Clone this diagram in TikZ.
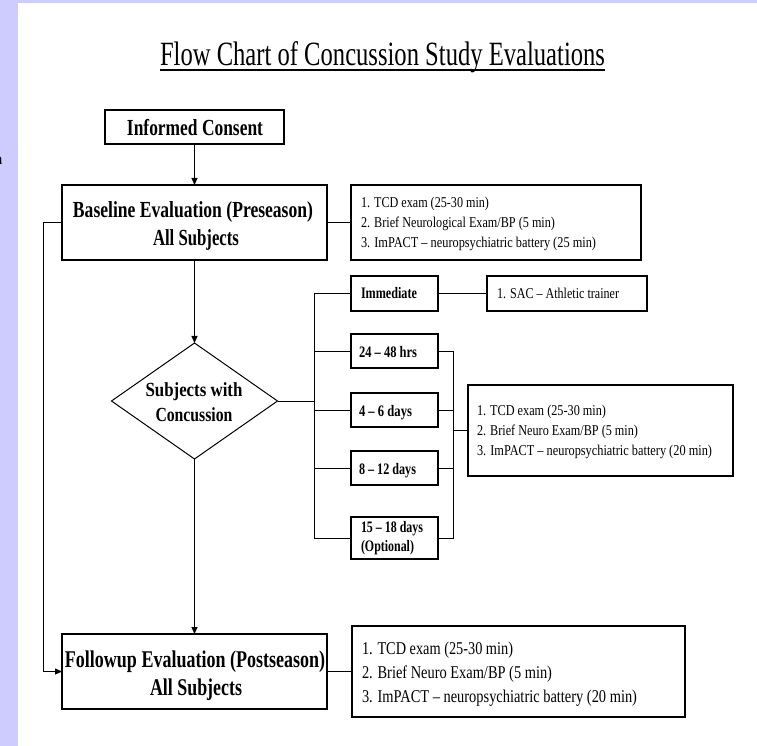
\documentclass[tikz,border=0pt]{standalone}
\usepackage{fontspec}
\setmainfont{Liberation Serif}
\usepackage{graphicx}
\usetikzlibrary{shapes.geometric,arrows.meta}
\definecolor{lav}{RGB}{204,204,255}
\newcommand\fitw[2]{\resizebox{#1pt}{\height}{#2}}
\begin{document}
\begin{tikzpicture}[x=1pt,y=-1pt,
 box/.style={draw=black, line width=1.8pt, rectangle, inner sep=0pt, outer sep=0pt},
 conn/.style={draw=black, line width=1pt},
 arr/.style={conn, -{Triangle[length=7pt,width=6pt]}},
 lbl/.style={anchor=base, inner sep=0pt, outer sep=0pt},
 lbll/.style={anchor=base west, inner sep=0pt, outer sep=0pt},
 bigb/.style={font=\bfseries\fontsize{23}{27}\selectfont},
 midb/.style={font=\bfseries\fontsize{20}{24}\selectfont},
 smb/.style={font=\bfseries\fontsize{16}{18}\selectfont},
 sm/.style={font=\fontsize{15}{18}\selectfont},
]
\useasboundingbox (0,0) rectangle (757,746);
\fill[lav] (0,0) rectangle (757,746);
\fill[white] (18,3) rectangle (757,746);
\node[lbll, anchor=base east, font=\fontsize{16}{18}\selectfont] (cut) at (2.5,165) {a};

% title
\node[lbl, font=\fontsize{34}{40}\selectfont] (title) at (382.5,66) {\fitw{445}{Flow Chart of Concussion Study Evaluations}};
\draw[line width=1.5pt] ([yshift=-4pt]title.base west) -- ([yshift=-4pt]title.base east);

% informed consent
\node[box, minimum width=179pt, minimum height=34pt] (ic) at (194.5,127) {};
\node[lbl, bigb] (icT) at (195,136) {\fitw{136}{Informed Consent}};

% baseline
\node[box, minimum width=265pt, minimum height=75pt] (bl) at (194.5,222.5) {};
\node[lbl, bigb] (blT1) at (193,218) {\fitw{240}{Baseline Evaluation (Preseason)}};
\node[lbl, bigb] (blT2) at (196,245) {\fitw{86}{All Subjects}};

% info 1
\node[box, minimum width=290pt, minimum height=75pt] (i1) at (496,222.5) {};
\node[lbll, sm] (i1a) at (361,207) {\fitw{128}{1. TCD exam (25-30 min)}};
\node[lbll, sm] (i1b) at (361,227) {\fitw{194}{2. Brief Neurological Exam/BP (5 min)}};
\node[lbll, sm] (i1c) at (361,247) {\fitw{235}{3. ImPACT -- neuropsychiatric battery (25 min)}};

% diamond
\node[diamond, draw=black, line width=1pt, minimum width=166pt, minimum height=116pt, inner sep=0pt, outer sep=0pt] (dm) at (194.5,401) {};
\node[lbl, midb] (dmT1) at (194,396) {\fitw{97}{Subjects with}};
\node[lbl, midb] (dmT2) at (194,421) {\fitw{77}{Concussion}};

% interval boxes
\node[box, minimum width=87pt, minimum height=35pt] (im) at (394.5,293.5) {};
\node[lbll, smb] (imT) at (361,298.5) {\fitw{56}{Immediate}};
\node[box, minimum width=87pt, minimum height=34pt] (h24) at (394.5,351) {};
\node[lbll, smb] (h24T) at (359,357) {\fitw{58}{24 -- 48 hrs}};
\node[box, minimum width=87pt, minimum height=34pt] (d46) at (394.5,410) {};
\node[lbll, smb] (d46T) at (359,416) {\fitw{53}{4 -- 6 days}};
\node[box, minimum width=87pt, minimum height=34pt] (d812) at (394.5,468) {};
\node[lbll, smb] (d812T) at (359,474) {\fitw{57}{8 -- 12 days}};
\node[box, minimum width=87pt, minimum height=42pt] (d1518) at (394.5,538) {};
\node[lbll, smb] (d1518a) at (361,532) {\fitw{62}{15 -- 18 days}};
\node[lbll, smb] (d1518b) at (361,551) {\fitw{53}{(Optional)}};

% SAC
\node[box, minimum width=160pt, minimum height=35pt] (sac) at (567,293.5) {};
\node[lbll, sm] (sacT) at (497,298.5) {\fitw{122}{1. SAC -- Athletic trainer}};

% info 2
\node[box, minimum width=265pt, minimum height=91pt] (i2) at (600.5,430.5) {};
\node[lbll, sm] (i2a) at (477,415) {\fitw{129}{1. TCD exam (25-30 min)}};
\node[lbll, sm] (i2b) at (477,435) {\fitw{161}{2. Brief Neuro Exam/BP (5 min)}};
\node[lbll, sm] (i2c) at (477,455) {\fitw{235}{3. ImPACT -- neuropsychiatric battery (20 min)}};

% follow up
\node[box, minimum width=265pt, minimum height=75pt] (fu) at (194.5,671.5) {};
\node[lbl, font=\bfseries\fontsize{24}{28}\selectfont] (fuT1) at (195,667) {\fitw{260}{Followup Evaluation (Postseason)}};
\node[lbl, font=\bfseries\fontsize{24}{28}\selectfont] (fuT2) at (196,695) {\fitw{92}{All Subjects}};

% info 3
\node[box, minimum width=333pt, minimum height=91pt] (i3) at (518.5,671.5) {};
\node[lbll, font=\fontsize{18}{22}\selectfont] (i3a) at (362,654) {\fitw{151}{1. TCD exam (25-30 min)}};
\node[lbll, font=\fontsize{18}{22}\selectfont] (i3b) at (362,678) {\fitw{190}{2. Brief Neuro Exam/BP (5 min)}};
\node[lbll, font=\fontsize{18}{22}\selectfont] (i3c) at (362,702) {\fitw{275}{3. ImPACT -- neuropsychiatric battery (20 min)}};

% connectors
\draw[arr] (ic) -- (bl);
\draw[conn] (bl) -- (i1);
\draw[arr] (bl) -- (dm);
\draw[arr] (dm) -- (fu);
\draw[conn] (fu) -- (i3);
\draw[arr] (bl.west) -- ++(-19,0) |- (fu.west);

\coordinate (lbus) at (314,401);
\draw[conn] (dm.east) -- (lbus);
\draw[conn] (lbus) |- (im.west);
\draw[conn] (lbus) |- (d1518.west);
\draw[conn] (lbus |- h24.west) -- (h24.west);
\draw[conn] (lbus |- d46.west) -- (d46.west);
\draw[conn] (lbus |- d812.west) -- (d812.west);
\draw[conn] (im) -- (sac);

\coordinate (rbus) at (453,430.5);
\draw[conn] (h24.east) -| (rbus);
\draw[conn] (d1518.east) -| (rbus);
\draw[conn] (d46.east) -- (d46.east -| rbus);
\draw[conn] (d812.east) -- (d812.east -| rbus);
\draw[conn] (rbus) -- (i2.west);
\end{tikzpicture}
\end{document}
